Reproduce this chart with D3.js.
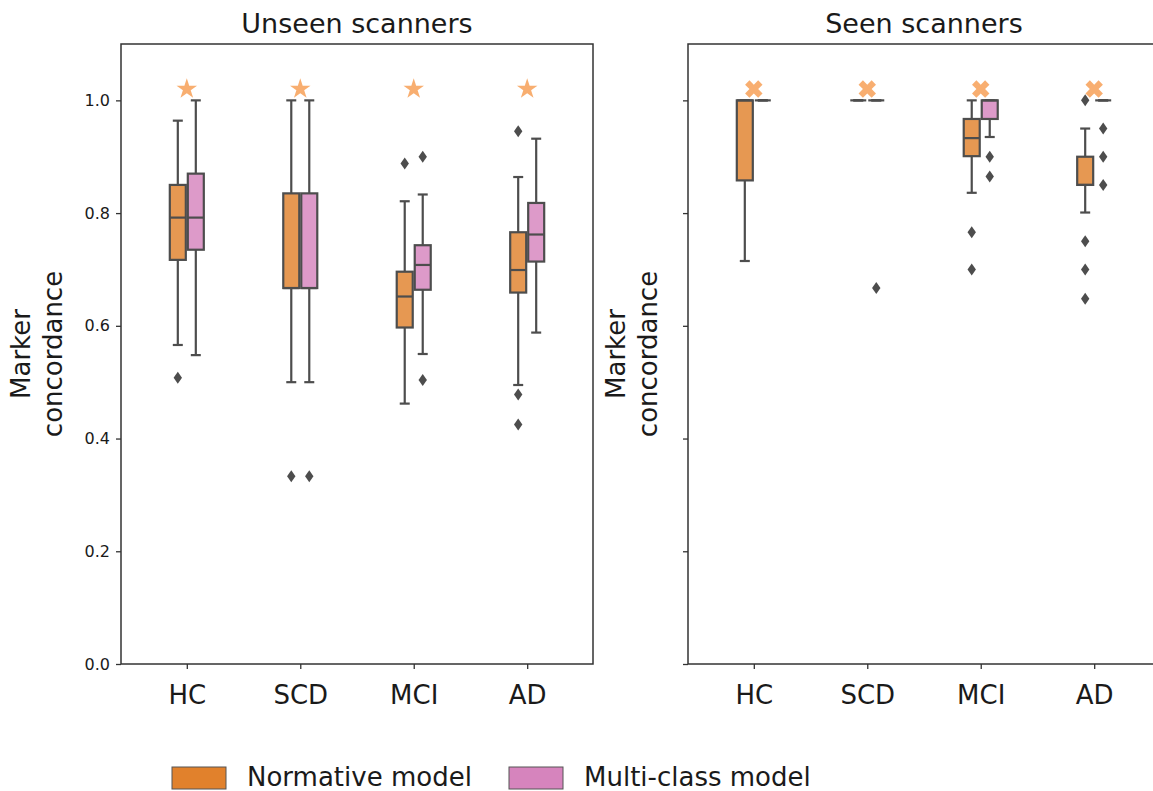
<!DOCTYPE html>
<meta charset="utf-8">
<style>
  body { margin: 0; background: white; }
  svg text { font-family: "DejaVu Sans", sans-serif; fill: #1a1a1a; }
  .tick text { font-size: 16px; }
</style>
<body>
<script src="https://cdn.jsdelivr.net/npm/d3@7"></script>
<script>

// categories and models
var categories = ["HC", "SCD", "MCI", "AD"];
var models = ["Normative model", "Multi-class model"];
var yTicks = [0, 0.2, 0.4, 0.6, 0.8, 1.0];

// five number summaries [low whisker, q1, median, q3, high whisker] per category
var unseenNormative = [[0.566, 0.717, 0.792, 0.850, 0.964], [0.5, 0.667, 0.667, 0.835, 1.0], [0.462, 0.597, 0.652, 0.696, 0.821], [0.495, 0.659, 0.699, 0.766, 0.864]];
var unseenMulticlass = [[0.548, 0.735, 0.792, 0.870, 1.0], [0.5, 0.667, 0.667, 0.835, 1.0], [0.550, 0.664, 0.708, 0.743, 0.833], [0.588, 0.714, 0.762, 0.818, 0.932]];
var seenNormative = [[0.715, 0.858, 1.0, 1.0, 1.0], [1.0, 1.0, 1.0, 1.0, 1.0], [0.836, 0.901, 0.933, 0.967, 1.0], [0.801, 0.850, 0.850, 0.900, 0.950]];
var seenMulticlass = [[1.0, 1.0, 1.0, 1.0, 1.0], [1.0, 1.0, 1.0, 1.0, 1.0], [0.935, 0.967, 1.0, 1.0, 1.0], [1.0, 1.0, 1.0, 1.0, 1.0]];

// outliers per category
var unseenNormativeOut = [[0.508], [0.333], [0.888], [0.945, 0.478, 0.425]];
var unseenMulticlassOut = [[], [0.333], [0.900, 0.504], []];
var seenNormativeOut = [[], [], [0.766, 0.700], [1.0, 0.750, 0.700, 0.648]];
var seenMulticlassOut = [[], [0.667], [0.900, 0.865], [0.950, 0.900, 0.850]];

// significance markers
var unseenMarker = [1.02, 1.02, 1.02, 1.02];
var seenMarker = [1.02, 1.02, 1.02, 1.02];

var fills = ["#e1812c", "#d684bd"];
var lineCol = "#4d4d4d";

var svg = d3.select("body").append("svg")
  .attr("width", 1153)
  .attr("height", 791);

var y = d3.scaleLinear().domain([0, 1.1]).range([664, 44]);

var panels = [
  { title: "Unseen scanners", x0: 121, x1: 593, boxes: [unseenNormative, unseenMulticlass],
    outs: [unseenNormativeOut, unseenMulticlassOut], marker: unseenMarker, sym: "star", labels: true, ylab: [30, 62] },
  { title: "Seen scanners", x0: 688, x1: 1160, boxes: [seenNormative, seenMulticlass],
    outs: [seenNormativeOut, seenMulticlassOut], marker: seenMarker, sym: "x", labels: false, ylab: [625, 657] }
];

var diamond = "M0,-6L4.2,0L0,6L-4.2,0Z";

panels.forEach(function (p) {
  var x = d3.scalePoint().domain(categories).range([p.x0, p.x1]).padding(0.58);
  var g = svg.append("g");

  // y axis
  var yAxis = d3.axisLeft(y).tickValues(yTicks).tickSizeOuter(0).tickSize(5).tickPadding(6)
    .tickFormat(p.labels ? d3.format(".1f") : "");
  var ya = g.append("g").attr("transform", "translate(" + p.x0 + ",0)").call(yAxis);
  ya.select(".domain").remove();
  ya.selectAll(".tick line").attr("stroke", "#333").attr("stroke-width", 1.3);

  // x axis
  var xa = g.append("g").attr("transform", "translate(0,664)")
    .call(d3.axisBottom(x).tickSize(5).tickPadding(10).tickSizeOuter(0));
  xa.select(".domain").remove();
  xa.selectAll(".tick line").attr("stroke", "#333").attr("stroke-width", 1.3);
  xa.selectAll(".tick text").style("font-size", "26px").attr("dy", "0.95em");

  // frame
  g.append("rect")
    .attr("x", p.x0).attr("y", 44)
    .attr("width", p.x1 - p.x0).attr("height", 620)
    .attr("fill", "none").attr("stroke", "#333").attr("stroke-width", 1.5);

  // title
  g.append("text")
    .attr("x", (p.x0 + p.x1) / 2 - (p.labels ? 0 : 0))
    .attr("y", 33)
    .attr("text-anchor", "middle")
    .style("font-size", "27px")
    .text(p.title);

  // y label
  var yl = g.append("text")
    .attr("transform", "translate(" + p.ylab[0] + ",354) rotate(-90)")
    .attr("text-anchor", "middle")
    .style("font-size", "26px");
  yl.append("tspan").attr("x", 0).attr("dy", 0).text("Marker");
  yl.append("tspan").attr("x", 0).attr("dy", 32).text("concordance");

  // boxes
  p.boxes.forEach(function (series, m) {
    var off = m == 0 ? -9 : 9;
    var bw = 16;
    series.forEach(function (d, i) {
      var cx = x(categories[i]) + off;
      var bg = g.append("g");
      // whiskers
      bg.append("line").attr("x1", cx).attr("x2", cx).attr("y1", y(d[0])).attr("y2", y(d[1]))
        .attr("stroke", lineCol).attr("stroke-width", 2.2);
      bg.append("line").attr("x1", cx).attr("x2", cx).attr("y1", y(d[3])).attr("y2", y(d[4]))
        .attr("stroke", lineCol).attr("stroke-width", 2.2);
      // caps
      [d[0], d[4]].forEach(function (v) {
        bg.append("line").attr("x1", cx - 5).attr("x2", cx + 5).attr("y1", y(v)).attr("y2", y(v))
          .attr("stroke", lineCol).attr("stroke-width", 2.2);
      });
      // box
      bg.append("rect")
        .attr("x", cx - bw / 2).attr("y", y(d[3]))
        .attr("width", bw).attr("height", y(d[1]) - y(d[3]))
        .attr("fill", fills[m]).attr("fill-opacity", 0.82)
        .attr("stroke", lineCol).attr("stroke-width", 2.2);
      // median
      bg.append("line").attr("x1", cx - bw / 2).attr("x2", cx + bw / 2).attr("y1", y(d[2])).attr("y2", y(d[2]))
        .attr("stroke", lineCol).attr("stroke-width", 2.2);
      // outliers
      bg.selectAll("path.out").data(p.outs[m][i]).enter().append("path")
        .attr("class", "out")
        .attr("d", diamond)
        .attr("transform", function (v) { return "translate(" + cx + "," + y(v) + ")"; })
        .attr("fill", lineCol);
    });
  });

  // significance markers
  var sym = p.sym == "star" ? d3.symbol().type(d3.symbolStar).size(130)
                            : d3.symbol().type(d3.symbolCross).size(190);
  g.selectAll("path.sig").data(p.marker).enter().append("path")
    .attr("class", "sig")
    .attr("d", sym)
    .attr("transform", function (v, i) {
      return "translate(" + x(categories[i]) + "," + y(v) + ")" + (p.sym == "x" ? " rotate(45)" : "");
    })
    .attr("fill", "#f7a057").attr("fill-opacity", 0.85);
});

// legend
var legend = svg.append("g");
var legX = [172, 509];
models.forEach(function (m, i) {
  legend.append("rect")
    .attr("x", legX[i]).attr("y", 767)
    .attr("width", 54).attr("height", 22)
    .attr("fill", fills[i]).attr("stroke", "#555").attr("stroke-width", 1);
  legend.append("text")
    .attr("x", legX[i] + 75).attr("y", 786)
    .style("font-size", "26px")
    .text(m);
});

</script>
</body>
